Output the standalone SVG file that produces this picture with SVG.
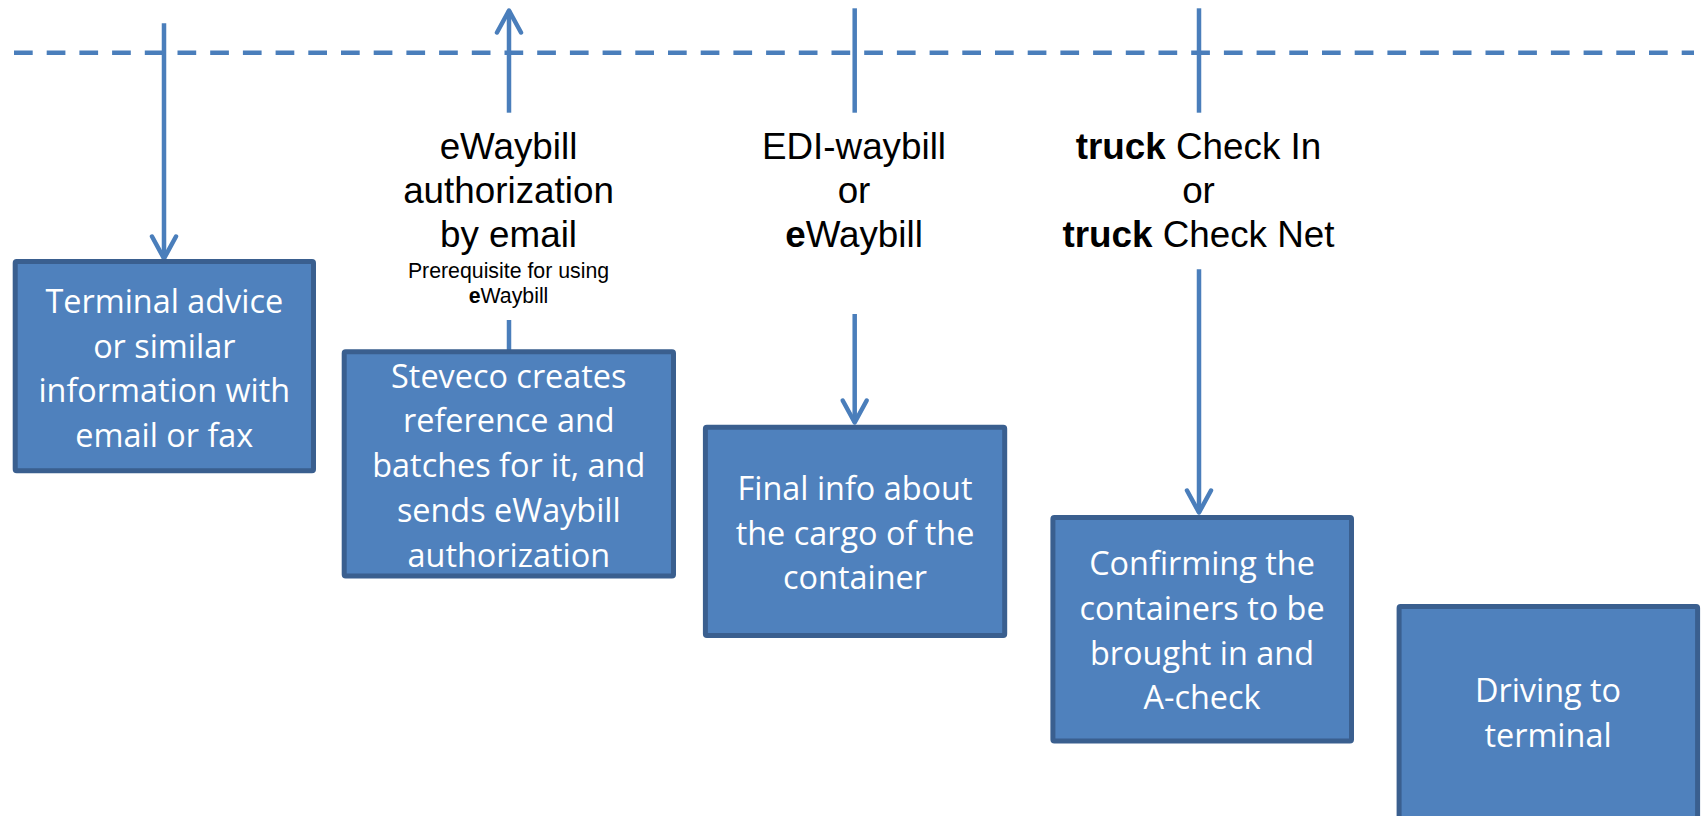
<svg xmlns="http://www.w3.org/2000/svg" width="1701" height="816" viewBox="0 0 1701 816">
<style>
.box{fill:#4F81BD;stroke:#3A5F8F;stroke-width:5}
.bt{font-family:"Open Sans","Noto Sans",sans-serif;font-size:32.4px;fill:#FFFFFF;text-anchor:middle}
.lb{font-family:"Liberation Sans",Arial,sans-serif;font-size:36.8px;fill:#000000;text-anchor:middle}
.sm{font-family:"Liberation Sans",Arial,sans-serif;font-size:21.3px;fill:#000000;text-anchor:middle}
.b{font-weight:bold}
.ln{fill:none;stroke:#4A7EBB;stroke-width:4.5}
.dash{fill:none;stroke:#4A7EBB;stroke-width:4.5;stroke-dasharray:18.7 14}
</style>
<defs>
<marker id="arr" markerUnits="userSpaceOnUse" orient="auto" refX="0" refY="0" markerWidth="40" markerHeight="40" style="overflow:visible">
<path d="M-22,-12 L0,0 L-22,12" fill="none" stroke="#4A7EBB" stroke-width="4.5" stroke-linecap="round" stroke-linejoin="round"/>
</marker>
</defs>
<g id="connectors">
<line class="dash" x1="14" y1="52.7" x2="1694" y2="52.7"/>
<line class="ln" x1="164" y1="23.3" x2="164" y2="258.5" marker-end="url(#arr)"/>
<line class="ln" x1="509" y1="112.7" x2="509" y2="10.5" marker-end="url(#arr)"/>
<line class="ln" x1="509" y1="320" x2="509" y2="351"/>
<line class="ln" x1="854.7" y1="8.3" x2="854.7" y2="112.7"/>
<line class="ln" x1="854.7" y1="314" x2="854.7" y2="422.5" marker-end="url(#arr)"/>
<line class="ln" x1="1199" y1="8.3" x2="1199" y2="112.7"/>
<line class="ln" x1="1199" y1="269.3" x2="1199" y2="512.5" marker-end="url(#arr)"/>
</g>
<g id="label-ewaybill-auth">
<text class="lb" x="508.5" y="159.3">eWaybill</text>
<text class="lb" x="508.5" y="203.3">authorization</text>
<text class="lb" x="508.5" y="247.3">by email</text>
<text class="sm" x="508.5" y="277.7">Prerequisite for using</text>
<text class="sm" x="508.5" y="302.7"><tspan class="b">e</tspan>Waybill</text>
</g>
<g id="label-edi">
<text class="lb" x="854" y="159.3">EDI-waybill</text>
<text class="lb" x="854" y="203.3">or</text>
<text class="lb" x="854" y="247.3"><tspan class="b">e</tspan>Waybill</text>
</g>
<g id="label-truck">
<text class="lb" x="1198.5" y="159.3"><tspan class="b">truck</tspan> Check In</text>
<text class="lb" x="1198.5" y="203.3">or</text>
<text class="lb" x="1198.5" y="247.3"><tspan class="b">truck</tspan> Check Net</text>
</g>
<g id="node-terminal-advice">
<rect class="box" x="15.2" y="261.5" width="298.3" height="209.3" rx="1.5"/>
<text class="bt" x="164.3" y="313">Terminal advice</text>
<text class="bt" x="164.3" y="357.5">or similar</text>
<text class="bt" x="164.3" y="402">information with</text>
<text class="bt" x="164.3" y="446.5">email or fax</text>
</g>
<g id="node-steveco">
<rect class="box" x="344.2" y="351.7" width="329.3" height="224.3" rx="1.5"/>
<text class="bt" x="508.8" y="387.5">Steveco creates</text>
<text class="bt" x="508.8" y="432.3">reference and</text>
<text class="bt" x="508.8" y="477.1">batches for it, and</text>
<text class="bt" x="508.8" y="521.9">sends eWaybill</text>
<text class="bt" x="508.8" y="566.7">authorization</text>
</g>
<g id="node-final-info">
<rect class="box" x="705.4" y="427.3" width="299.3" height="208.3" rx="1.5"/>
<text class="bt" x="855" y="500">Final info about</text>
<text class="bt" x="855" y="544.5">the cargo of the</text>
<text class="bt" x="855" y="589">container</text>
</g>
<g id="node-confirming">
<rect class="box" x="1052.9" y="517.5" width="298.6" height="223.5" rx="1.5"/>
<text class="bt" x="1202" y="575">Confirming the</text>
<text class="bt" x="1202" y="620">containers to be</text>
<text class="bt" x="1202" y="665">brought in and</text>
<text class="bt" x="1202" y="709.3">A-check</text>
</g>
<g id="node-driving">
<rect class="box" x="1399.1" y="606.5" width="298.5" height="212" rx="1.5"/>
<text class="bt" x="1548" y="701.7">Driving to</text>
<text class="bt" x="1548" y="746.7">terminal</text>
</g>
</svg>
